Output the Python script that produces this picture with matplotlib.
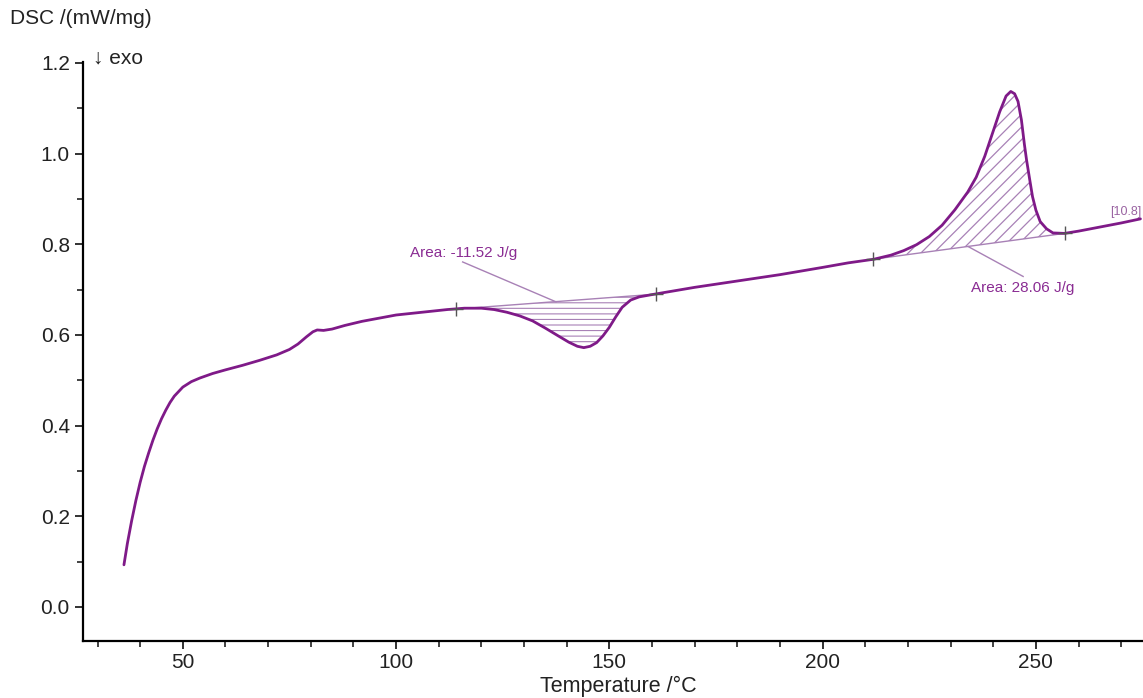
import numpy as np
import matplotlib

matplotlib.use("Agg")
import matplotlib.pyplot as plt
from matplotlib.patches import Polygon
from matplotlib.ticker import MultipleLocator

plt.rcParams["font.family"] = ["Liberation Sans", "DejaVu Sans"]
plt.rcParams["hatch.linewidth"] = 0.8

# DSC curve (temperature in °C, DSC in mW/mg)
temp = [36.2, 37.0, 38.0, 39.0, 40.0, 41.0, 42.0, 43.0, 44.0, 45.0,
	46.0, 47.0, 48.0, 50.0, 52.0, 54.0, 57.0, 60.0, 64.0, 68.0,
	72.0, 75.0, 77.0, 79.0, 80.5, 81.5, 83.0, 85.0, 88.0, 92.0,
	96.0, 100.0, 104.0, 108.0, 112.0, 116.0, 120.0, 123.0, 126.0, 129.0,
	132.0, 135.0, 138.0, 140.5, 142.5, 144.0, 145.5, 147.0, 148.5, 150.0,
	151.5, 153.0, 155.0, 157.0, 160.0, 165.0, 170.0, 180.0, 190.0, 200.0,
	206.0, 212.0, 216.0, 219.0, 222.0, 225.0, 228.0, 231.0, 234.0, 236.0,
	238.0, 240.0, 241.5, 243.0, 244.1, 245.0, 245.8, 246.6, 247.3, 247.8,
	248.5, 249.2, 250.0, 251.0, 252.5, 254.0, 256.7, 260.0, 265.0, 270.0,
	274.5]
dsc = [0.093, 0.140, 0.190, 0.235, 0.275, 0.310, 0.340, 0.368, 0.393, 0.415,
	0.434, 0.451, 0.465, 0.485, 0.497, 0.505, 0.515, 0.523, 0.533, 0.544,
	0.556, 0.568, 0.580, 0.596, 0.607, 0.611, 0.610, 0.613, 0.621, 0.630,
	0.637, 0.644, 0.648, 0.652, 0.656, 0.659, 0.659, 0.656, 0.650, 0.642,
	0.631, 0.615, 0.598, 0.584, 0.575, 0.572, 0.575, 0.583, 0.598, 0.617,
	0.640, 0.661, 0.677, 0.684, 0.689, 0.697, 0.705, 0.719, 0.733, 0.749,
	0.759, 0.767, 0.776, 0.786, 0.799, 0.817, 0.842, 0.876, 0.915, 0.948,
	0.994, 1.050, 1.092, 1.127, 1.137, 1.132, 1.115, 1.074, 1.020, 0.986,
	0.945, 0.905, 0.875, 0.850, 0.834, 0.825, 0.824, 0.829, 0.838, 0.847,
	0.856]

# integration limits (baseline end points)
peak1_t = [114.0, 160.9]
peak1_v = [0.657, 0.690]
peak2_t = [211.9, 256.7]
peak2_v = [0.767, 0.824]

area1_label = "Area: -11.52 J/g"
area2_label = "Area: 28.06 J/g"
end_label = "[10.8]"

CURVE = "#7f1a88"
LIGHT = "#a881b6"
TEXT = "#8a2c93"

fig = plt.figure(figsize=(11.43, 6.98), dpi=100)
ax = fig.add_axes([83 / 1143, (698 - 641) / 698, 1 - 83 / 1143, (641 - 62) / 698])
ax.set_xlim(26.6, 275.1)
ax.set_ylim(-0.075, 1.202)

t = np.array(temp)
v = np.array(dsc)


def peak_patch(bt, bv):
	# closed outline: curve between the limits, back along the straight baseline
	m = (t > bt[0]) & (t < bt[1])
	pts = [(bt[0], bv[0])] + list(zip(t[m], v[m])) + [(bt[1], bv[1])]
	p = Polygon(pts, closed=True, facecolor="none", edgecolor="none", lw=0)
	ax.add_patch(p)
	return p


# endotherm: horizontal hatch
p1 = peak_patch(peak1_t, peak1_v)
p1.set_hatch("---")
p1.set_edgecolor(LIGHT)
p1.set_linewidth(0)
ax.plot(peak1_t, peak1_v, color=LIGHT, lw=1.0)

# exotherm: 45° hatch (~12 px apart), clipped to the area
p2 = peak_patch(peak2_t, peak2_v)
slope = 4.265 / 453.3  # 45° on screen, in data units per °C
for k in range(-30, 30):
	x0, x1 = 200.0, 270.0
	y0 = 0.76 + k * 0.028
	ln, = ax.plot([x0, x1], [y0, y0 + slope * (x1 - x0)], color=LIGHT, lw=0.9)
	ln.set_clip_path(p2)
ax.plot(peak2_t, peak2_v, color=LIGHT, lw=1.0)

ax.plot(t, v, color=CURVE, lw=2.0, solid_capstyle="round", zorder=3)
ax.plot(peak1_t + peak2_t, peak1_v + peak2_v, ls="none", marker="+", ms=10, mew=1.0,
	color="#555555", zorder=4)

# leader lines + labels
ax.plot([115.6, 137.5], [0.761, 0.673], color=LIGHT, lw=1.0)
ax.text(115.9, 0.781, area1_label, color=TEXT, fontsize=11, ha="center", va="center")
ax.plot([234.1, 247.0], [0.795, 0.729], color=LIGHT, lw=1.0)
ax.text(247.0, 0.703, area2_label, color=TEXT, fontsize=11, ha="center", va="center")
ax.text(274.8, 0.872, end_label, color="#9a64a2", fontsize=9, ha="right", va="center")

ax.xaxis.set_major_locator(MultipleLocator(50))
ax.xaxis.set_minor_locator(MultipleLocator(10))
ax.yaxis.set_major_locator(MultipleLocator(0.2))
ax.yaxis.set_minor_locator(MultipleLocator(0.1))
ax.yaxis.set_major_formatter(lambda y, _: f"{y:.1f}")
for s in ("top", "right"):
	ax.spines[s].set_visible(False)
for s in ("left", "bottom"):
	ax.spines[s].set_linewidth(1.6)
ax.tick_params(which="major", direction="out", length=6, width=1.3, labelsize=15,
	color="#222222", labelcolor="#222222")
ax.tick_params(which="minor", direction="out", length=4, width=1.2, color="#222222")
ax.tick_params(axis="x", pad=3)

fig.text(10 / 1143, 1 - 18 / 698, "DSC /(mW/mg)", fontsize=15, ha="left", va="center", color="#222222")
fig.text(93 / 1143, 1 - 58 / 698, "↓ exo", fontsize=15, ha="left", va="center", color="#222222")
fig.text(618 / 1143, 1 - 686 / 698, "Temperature /°C", fontsize=15.5, ha="center", va="center",
	color="#222222")

fig.savefig("out.png", dpi=100, facecolor="white")
